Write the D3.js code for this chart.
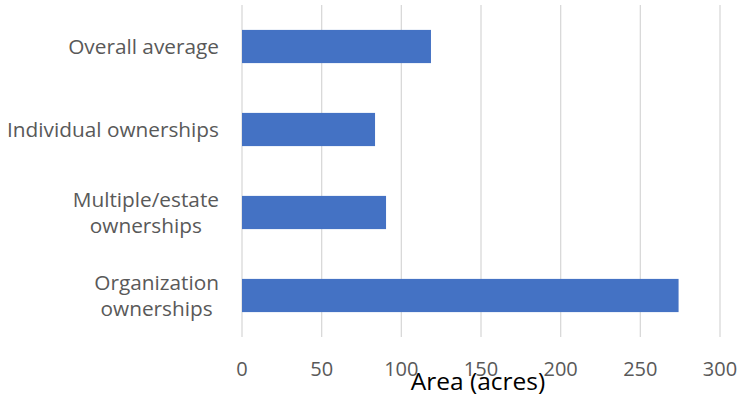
<!DOCTYPE html>
<html><head><meta charset="utf-8">
<script src="https://cdn.jsdelivr.net/npm/d3@7"></script>
<style>body{margin:0;background:#fff;} svg{display:block;}</style>
</head><body>
<svg id="c" width="743" height="395"></svg>
<script>
const categories = [["Overall average"], ["Individual ownerships"], ["Multiple/estate", "ownerships"], ["Organization", "ownerships"]];
const values = [118.6, 83.5, 90.4, 274];
const ticks = [0, 50, 100, 150, 200, 250, 300];
const axisTitle = "Area (acres)";

const svg = d3.select("#c");
const font = "'Open Sans', sans-serif";
const x = d3.scaleLinear().domain([0, 300]).range([242, 720]);
const y = d3.scaleBand().domain(d3.range(categories.length)).range([5, 337]).paddingInner(0.6).paddingOuter(0.3);

// gridlines
svg.append("g").selectAll("line").data(ticks).join("line")
  .attr("x1", d => x(d)).attr("x2", d => x(d)).attr("y1", 5).attr("y2", 337)
  .attr("stroke", "#d9d9d9").attr("stroke-width", 1.3);

// bars
svg.append("g").selectAll("rect").data(values).join("rect")
  .attr("x", x(0)).attr("y", (d, i) => y(i))
  .attr("width", d => x(d) - x(0)).attr("height", y.bandwidth())
  .attr("fill", "#4472c4");

// tick labels
svg.append("g").selectAll("text").data(ticks).join("text")
  .attr("x", d => x(d)).attr("y", 376).attr("text-anchor", "middle")
  .attr("font-family", font).attr("font-size", 20).attr("fill", "#595959")
  .text(d => d);

// category labels
const lh = 26;
categories.forEach((lines, i) => {
  const g = svg.append("g");
  const texts = lines.map((l, j) => g.append("text")
    .attr("font-family", font).attr("font-size", 20.8).attr("fill", "#595959")
    .attr("text-anchor", "middle")
    .attr("y", y(i) + y.bandwidth() / 2 + (j - (lines.length - 1) / 2) * lh + 7.5)
    .text(l));
  const maxW = d3.max(texts, t => t.node().getComputedTextLength());
  texts.forEach(t => t.attr("x", 219 - maxW / 2));
});

// axis title
svg.append("text").attr("x", 478).attr("y", 390).attr("text-anchor", "middle")
  .attr("font-family", font).attr("font-size", 24.5).attr("fill", "#000")
  .text(axisTitle);
</script>
</body></html>
